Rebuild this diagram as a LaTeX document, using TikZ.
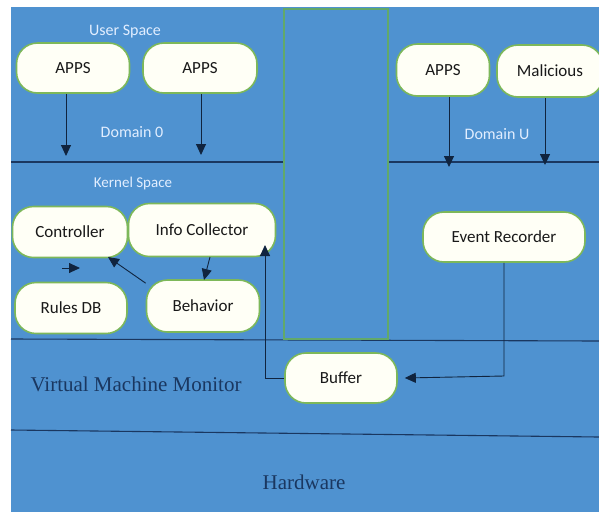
\documentclass[tikz,border=0pt]{standalone}
\usepackage{fontspec}
\setmainfont{Liberation Serif}
\newfontfamily\boxfont{Carlito}
\usetikzlibrary{arrows.meta}
\definecolor{bgblue}{HTML}{4F92D0}
\definecolor{gborder}{HTML}{7DB85A}
\definecolor{gframe}{HTML}{62A96A}
\definecolor{navy}{HTML}{1A3760}
\definecolor{arrcol}{HTML}{10243F}
\definecolor{lbl}{HTML}{E2EEFF}
\definecolor{boxfill}{HTML}{FFFFF6}
\tikzset{
  pill/.style={draw=gborder, line width=1.6pt, fill=boxfill, rounded corners=21pt,
    font=\boxfont\fontsize{17}{19}\selectfont, text=black!90, inner sep=0pt},
  seplink/.style={draw=navy, line width=1.1pt},
  arr/.style={draw=arrcol, line width=0.9pt, -{Triangle[length=11pt,width=10pt]}},
  lab/.style={text=lbl, font=\boxfont\fontsize{16}{18}\selectfont},
  big/.style={text=navy, font=\fontsize{21}{23}\selectfont}
}
\begin{document}
\begin{tikzpicture}[x=1pt,y=-1pt]
\useasboundingbox (0,0) rectangle (599,512);
\fill[white] (0,0) rectangle (599,512);
\fill[bgblue] (11,7) rectangle (599,512);
% separator lines
\draw[seplink] (11,162) -- (284,162);
\draw[seplink] (388,162) -- (599,162);
\draw[seplink] (11,339) -- (599,341);
\draw[seplink] (11,430) -- (599,437);
% green frame
\draw[gframe, line width=2.4pt] (284,9) rectangle (388,339);
% nodes
\node[pill, minimum width=113pt, minimum height=50pt] (apps1) at (73,68) {APPS};
\node[pill, minimum width=114pt, minimum height=50pt] (apps2) at (200,68) {APPS};
\node[pill, minimum width=93pt, minimum height=52pt] (apps3) at (443,70) {APPS};
\node[pill, minimum width=106pt, minimum height=52pt] (mal) at (550,71) {Malicious};
\node[pill, minimum width=115pt, minimum height=51pt] (ctrl) at (70,232) {Controller};
\node[pill, minimum width=147pt, minimum height=53pt] (info) at (202,230) {Info Collector};
\node[pill, minimum width=112pt, minimum height=51pt] (rules) at (71,308) {Rules DB};
\node[pill, minimum width=113pt, minimum height=52pt] (beh) at (203,306) {Behavior};
\node[pill, minimum width=162pt, minimum height=50pt] (event) at (504,237) {Event Recorder};
\node[pill, minimum width=112pt, minimum height=50pt] (buf) at (341,378) {Buffer};
% labels
\node[lab] (us) at (125,32) {User Space};
\node[lab] (d0) at (132,132) {Domain 0};
\node[lab, font=\boxfont\fontsize{15}{17}\selectfont] (ks) at (133,183) {Kernel Space};
\node[lab] (du) at (497,134) {Domain U};
\node[big, anchor=west] (vmm) at (27,384) {Virtual Machine Monitor};
\node[big] (hw) at (304,482) {Hardware};
% coordinates for arrow ends
\coordinate (a1e) at (66,156);
\coordinate (a2e) at (201,155);
\coordinate (a3e) at (449,167);
\coordinate (m1e) at (545,165);
\coordinate (rs) at (62,268);
\coordinate (re) at (80,268);
% arrows
\draw[arr] (apps1.south -| a1e) -- (a1e);
\draw[arr] (apps2.south -| a2e) -- (a2e);
\draw[arr] (apps3.south -| a3e) -- (a3e);
\draw[arr] (mal.south -| m1e) -- (m1e);
\draw[arr] (rs) -- (re);
\draw[arr] (beh.north west) ++(0,4) -- (108,257);
\draw[arr] (210,257) -- (204,280);
\draw[arr] (buf.west) -- (265,378) -- (265,245);
\draw[arr] (event.south) -- (504,376) -- ([xshift=7pt]buf.east);
\end{tikzpicture}
\end{document}
